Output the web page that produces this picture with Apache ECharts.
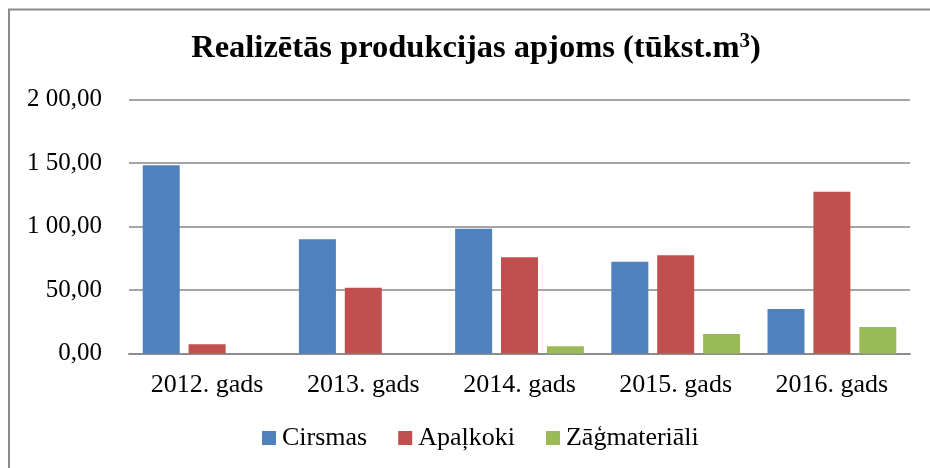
<!DOCTYPE html>
<html><head><meta charset="utf-8">
<script src="https://cdn.jsdelivr.net/npm/echarts@6/dist/echarts.min.js"></script>
<style>html,body{margin:0;padding:0;background:#fff}#c{width:930px;height:468px}</style>
</head><body><div id="c"></div>
<script>
const categories = ['2012. gads','2013. gads','2014. gads','2015. gads','2016. gads'];
const seriesNames = ['Cirsmas','Apaļkoki','Zāģmateriāli'];
const cirsmas = [148.2, 89.9, 98.3, 72.3, 35.0];
const apalkoki = [7.2, 51.8, 75.7, 77.3, 127.4];
const zagmaterali = [0, 0, 5.7, 15.4, 20.9];
const yTickLabels = {0:'0,00', 50:'50,00', 100:'1 00,00', 150:'1 50,00', 200:'2 00,00'};
const colors = ['#4F81BD','#C0504D','#9BBB59'];
const font = 'Liberation Serif';

const chart = echarts.init(document.getElementById('c'), null, {renderer:'canvas'});
const mk = (name, data, i) => ({
  name, type:'bar', data, barWidth:37, barGap:'24%',
  itemStyle:{color:colors[i]},
  animation:false
});
chart.setOption({
  animation:false,
  title:{text:'{t|Realizētās produkcijas apjoms (tūkst.m}{s|3}{t|)}', left:471, textAlign:'center', top:26,
    textStyle:{fontFamily:font, fontWeight:'bold', fontSize:32.5, color:'#000',
      rich:{t:{fontFamily:font, fontWeight:'bold', fontSize:32.5, lineHeight:36, color:'#000'},
            s:{fontFamily:font, fontWeight:'bold', fontSize:21, lineHeight:36, color:'#000', verticalAlign:'top', padding:[0,0,15,0]}}}},
  graphic:[{type:'rect', shape:{x:9, y:9.5, width:940, height:480}, style:{fill:'none', stroke:'#8c8c8c', lineWidth:2}, silent:true}],
  legend:{bottom:12, left:257, itemWidth:14, itemHeight:14, itemGap:31, icon:'rect',
    textStyle:{fontFamily:font, fontSize:26, color:'#000', padding:[0,0,0,1]},
    data:seriesNames},
  grid:{left:129, right:20, top:99.5, bottom:114.5, containLabel:false},
  xAxis:{type:'category', data:categories,
    axisLine:{lineStyle:{color:'#8c8c8c', width:2}}, axisTick:{show:false},
    axisLabel:{fontFamily:font, fontSize:26, color:'#000', margin:19}},
  yAxis:{type:'value', min:0, max:200, interval:50,
    axisLine:{show:false}, axisTick:{show:false},
    splitLine:{lineStyle:{color:'#878787', width:1.5}},
    axisLabel:{fontFamily:font, fontSize:25, color:'#000', margin:27, formatter:v=>yTickLabels[v]}},
  series:[mk(seriesNames[0], cirsmas, 0), mk(seriesNames[1], apalkoki, 1), mk(seriesNames[2], zagmaterali, 2)]
});
</script></body></html>
